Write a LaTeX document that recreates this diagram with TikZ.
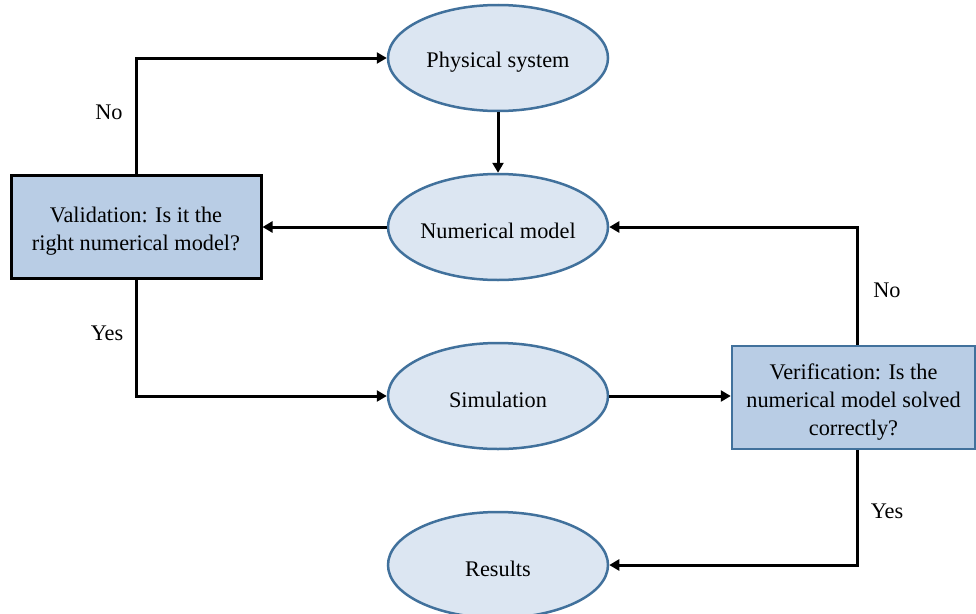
\documentclass[tikz,border=0pt]{standalone}
\usepackage{fontspec}
\setmainfont{Liberation Serif}
\usetikzlibrary{shapes.geometric,arrows.meta}
\definecolor{ellfill}{HTML}{DCE6F2}
\definecolor{ellline}{HTML}{41719C}
\definecolor{boxfill}{HTML}{B9CDE5}
\newcommand{\lowtext}[1]{\raisebox{-4pt}[\height][\depth]{#1}}
\newcommand{\lowlines}[1]{\lowtext{\begin{tabular}{@{}c@{}}#1\end{tabular}}}
\begin{document}
\begin{tikzpicture}[x=1pt,y=-1pt,
  font=\fontsize{22.3}{28}\selectfont,
  ell/.style={ellipse, draw=ellline, line width=2.5pt, fill=ellfill,
    minimum width=220pt, minimum height=106pt, inner sep=0pt},
  valbox/.style={rectangle, draw=black, line width=3pt, fill=boxfill,
    minimum width=250pt, minimum height=103pt, align=center, inner sep=0pt},
  verbox/.style={rectangle, draw=ellline, line width=2.5pt, fill=boxfill,
    minimum width=243pt, minimum height=103pt, align=center, inner sep=0pt},
  conn/.style={line width=3pt, -{Triangle[length=10pt,width=11pt]}},
  lbl/.style={inner sep=0pt}]
\clip (0,0) rectangle (976,613);
\fill[white] (0,0) rectangle (976,613);

\node[ell] (phys) at (498,58) {\lowtext{Physical system}};
\node[ell] (num) at (498,227) {\lowtext{Numerical model}};
\node[ell] (sim) at (498,396) {\lowtext{Simulation}};
\node[ell] (res) at (498,565) {\lowtext{Results}};
\node[valbox] (val) at (136,226.5) {\lowlines{Validation: Is it the\\right numerical model?}};
\node[verbox] (ver) at (853.5,397.5) {\lowlines{Verification: Is the\\numerical model solved\\correctly?}};

\coordinate (vtop) at ([xshift=3.5pt]ver.north);
\coordinate (vbot) at ([xshift=3.5pt]ver.south);

\draw[conn] (val.north) |- (phys.west);
\draw[conn] (phys.south) -- (num.north);
\draw[conn] (num.west) -- (num.west -| val.east);
\draw[conn] (val.south) |- (sim.west);
\draw[conn] (sim.east) -- (sim.east -| ver.west);
\draw[conn] (vtop) |- (num.east);
\draw[conn] (vbot) |- (res.east);

\node[lbl] (no1) at (109,112) {No};
\node[lbl] (yes1) at (107,333) {Yes};
\node[lbl] (no2) at (887,290) {No};
\node[lbl] (yes2) at (887,511) {Yes};
\end{tikzpicture}
\end{document}
